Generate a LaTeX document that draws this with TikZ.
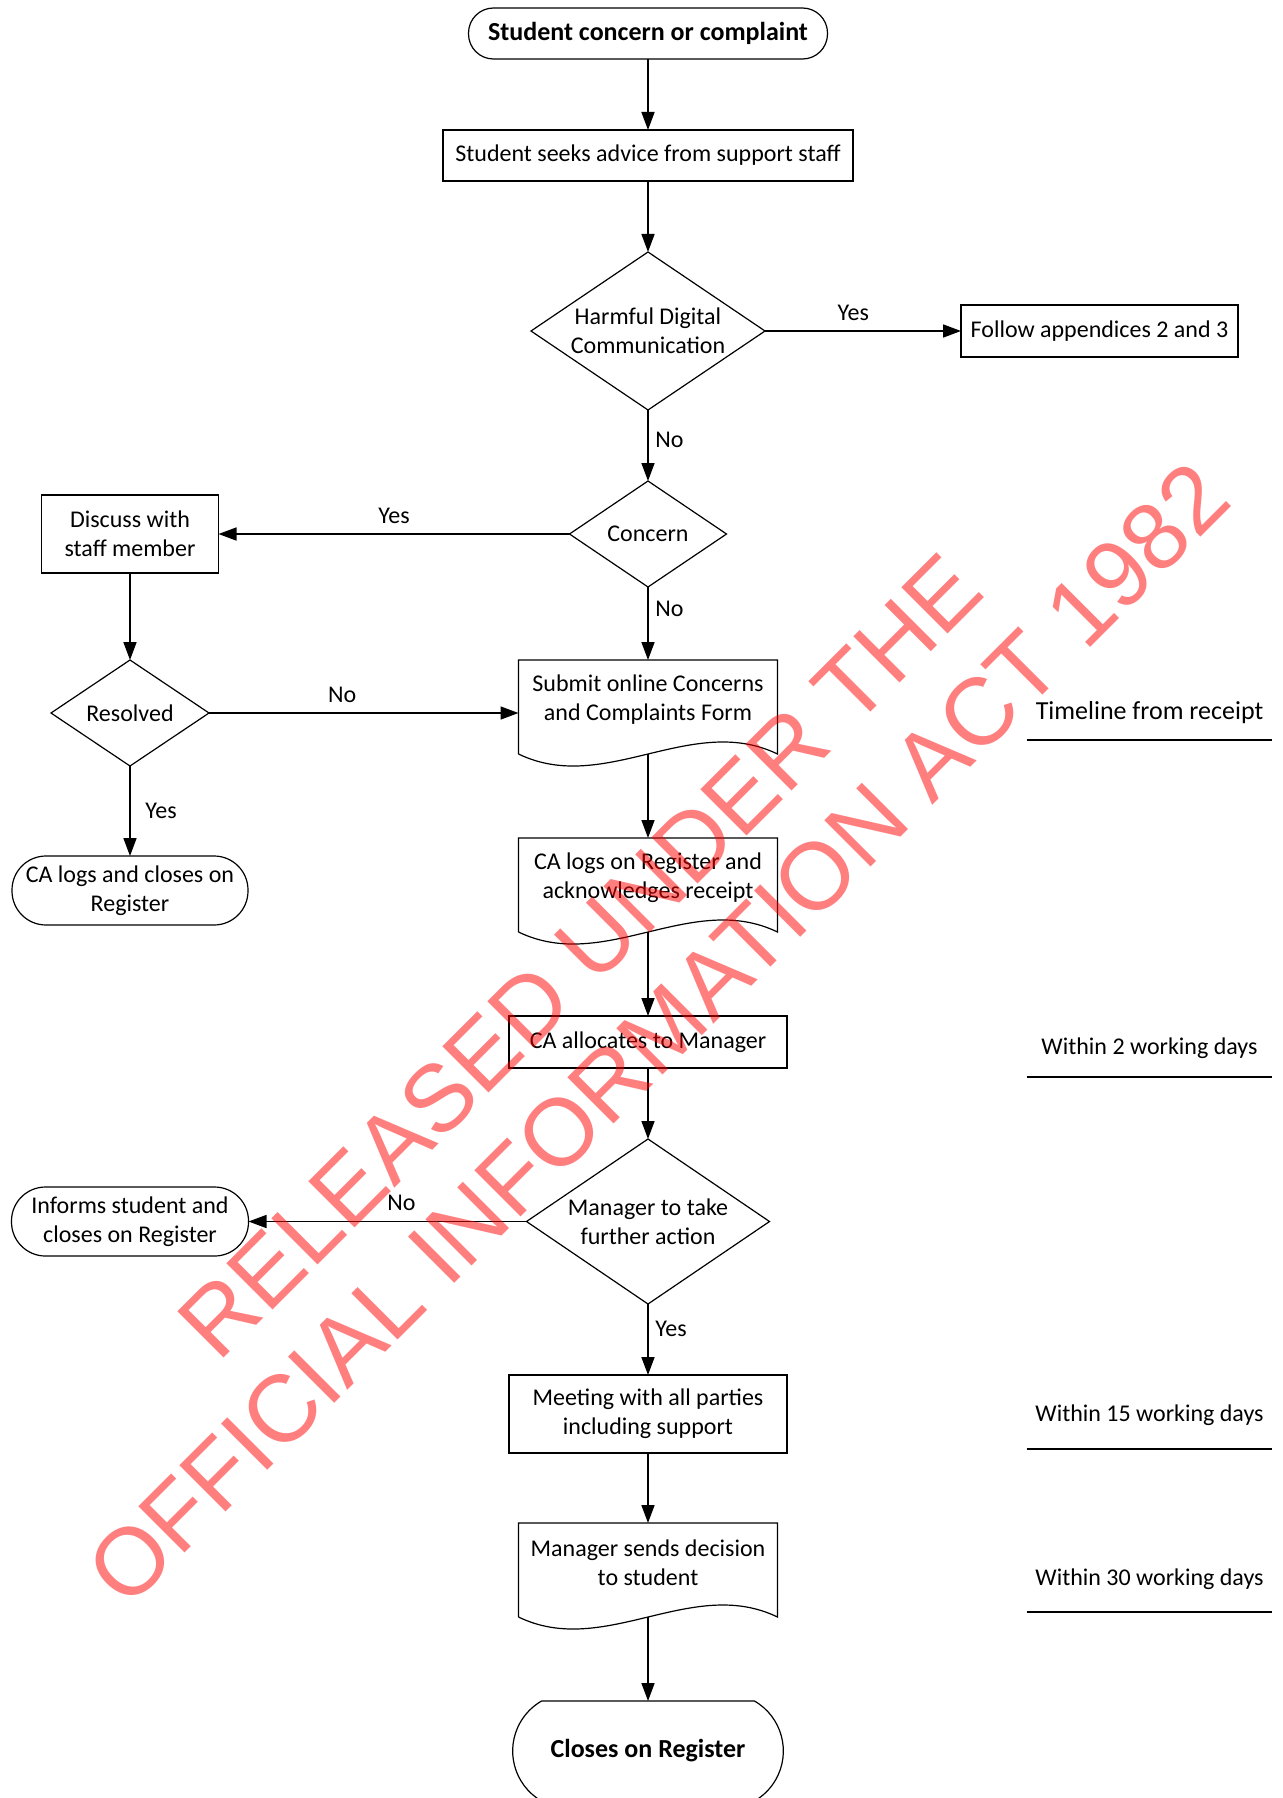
\documentclass[tikz,border=0pt]{standalone}
\usepackage{fontspec}
\setmainfont{Carlito}
\newfontfamily\stampfont{Liberation Sans}
\usetikzlibrary{shapes,arrows.meta}
\usetikzlibrary{positioning}
\tikzstyle{block} = [draw, rectangle, line width=0.6pt, align=center,
inner sep=2pt, outer sep=0pt]
\tikzstyle{decision} = [draw, diamond, aspect=1.5, line width=0.6pt,
align=center, inner sep=0pt, outer sep=0pt]
\tikzstyle{line} = [draw, line width=0.8pt, -{Triangle[length=9pt,width=6.5pt]}]
\tikzstyle{rule} = [draw, line width=1pt]

\begin{document}
\begin{tikzpicture}[auto, font=\fontsize{12}{14.5}\selectfont,
	term/.style={draw, rectangle, rounded corners=#1, line width=0.6pt,
		align=center, inner sep=2pt, outer sep=0pt},
	doc/.style={align=center, minimum width=129.5pt, minimum height=40pt, outer sep=0pt,
		append after command={\pgfextra{\let\docnode=\tikzlastnode
			\draw [line width=0.6pt] ([yshift=-7pt]\docnode.south west)
				-- (\docnode.north west) -- (\docnode.north east)
				-- ([yshift=-7pt]\docnode.south east)
				.. controls +(-43pt,20.8pt) and +(43pt,-20.8pt)
				.. ([yshift=-7pt]\docnode.south west);
			\coordinate (\docnode-w) at ([yshift=-7pt]\docnode.south);}}},
	tl/.style={minimum width=122.5pt, minimum height=#1, inner sep=0pt}]
	\useasboundingbox (0,0) rectangle (641pt,-899pt);
	%% Main column
	\node [term=12.5pt, minimum width=179.5pt, minimum height=25.5pt,
		font=\fontsize{13}{15.5}\selectfont\bfseries] (start) at (324pt,-16.75pt) {Student concern or complaint};
	\node [block, minimum width=205pt, minimum height=25.5pt, below=35.5pt of start] (seek) {Student seeks advice from support staff};
	\node [decision, minimum width=117pt, minimum height=79pt, below=35.5pt of seek] (hdc) {Harmful Digital\\Communication};
	\node [block, minimum width=138.5pt, minimum height=26pt, right=98pt of hdc] (follow) {Follow appendices 2 and 3};
	\node [decision, minimum width=78.5pt, minimum height=53pt, below=35.5pt of hdc] (concern) {Concern};
	\node [doc, below=36.5pt of concern] (submit) {Submit online Concerns\\and Complaints Form};
	\node [doc, below=49pt of submit] (calog) {CA logs on Register and\\acknowledges receipt};
	\node [block, minimum width=139pt, minimum height=26pt, below=49pt of calog] (alloc) {CA allocates to Manager};
	\node [decision, minimum width=121.5pt, minimum height=82.5pt, below=35.5pt of alloc] (mgr) {Manager to take\\further action};
	\node [block, minimum width=139pt, minimum height=39pt, below=35.5pt of mgr] (meet) {Meeting with all parties\\including support};
	\node [doc, below=35pt of meet] (send) {Manager sends decision\\to student};
	\node [draw, rounded rectangle, rounded rectangle arc length=120, line width=0.6pt,
		minimum width=142pt, minimum height=50pt, outer sep=0pt,
		font=\fontsize{13}{15.5}\selectfont\bfseries, below=49pt of send] (close) {Closes on Register};
	%% Left column
	\node [block, minimum width=88.5pt, minimum height=39pt, left=175.5pt of concern] (discuss) {Discuss with\\staff member};
	\node [decision, minimum width=79pt, minimum height=53pt, below=43.5pt of discuss] (resolved) {Resolved};
	\node [term=17pt, minimum width=118pt, minimum height=34.5pt, below=45pt of resolved] (calclose) {CA logs and closes on\\Register};
	\node [term=17pt, minimum width=118.5pt, minimum height=34.5pt, left=139pt of mgr] (inform) {Informs student and\\closes on Register};
	%% Arrows
	\path [line] (start) to (seek);
	\path [line] (seek) to (hdc);
	\path [line] (hdc) to node [pos=0.45, above=1.5pt] (yes1) {Yes} (follow);
	\path [line] (hdc) to node [pos=0.42, right] (no1) {No} (concern);
	\path [line] (concern) to node [midway, above=1.5pt] (yes2) {Yes} (discuss);
	\path [line] (concern) to node [pos=0.3, right] (no2) {No} (submit);
	\path [line] (discuss) to (resolved);
	\path [line] (resolved) to node [pos=0.43, above=1.5pt] (no3) {No} (resolved -| submit.west);
	\path [line] (resolved) to node [midway, right=4pt] (yes3) {Yes} (calclose);
	\path [line] (submit-w) to (calog);
	\path [line] (calog-w) to (alloc);
	\path [line] (alloc) to (mgr);
	\path [line] (mgr) to node [pos=0.45, above=1.5pt] (no4) {No} (inform);
	\path [line] (mgr) to node [pos=0.35, right] (yes4) {Yes} (meet);
	\path [line] (meet) to (send);
	\path [line] (send-w) to (close);
	%% Timeline
	\node [tl=27pt, font=\fontsize{13}{15.5}\selectfont] (tline) at (574.75pt,-356.5pt) {Timeline from receipt};
	\node [tl=28.5pt] (t2) at (574.75pt,-524pt) {Within 2 working days};
	\node [tl=34pt] (t15) at (574.75pt,-707.5pt) {Within 15 working days};
	\node [tl=33pt] (t30) at (574.75pt,-789.5pt) {Within 30 working days};
	\path [rule] (tline.south west) -- (tline.south east);
	\path [rule] (t2.south west) -- (t2.south east);
	\path [rule] (t15.south west) -- (t15.south east);
	\path [rule] (t30.south west) -- (t30.south east);
	%% Stamp
	\node [rotate=45, align=center, text=red, text opacity=0.5,
		font=\stampfont\fontsize{47.5}{55}\selectfont] (stamp) at (309.5pt,-497.5pt)
		{RELEASED UNDER THE\\OFFICIAL INFORMATION ACT 1982};
\end{tikzpicture}
\end{document}
